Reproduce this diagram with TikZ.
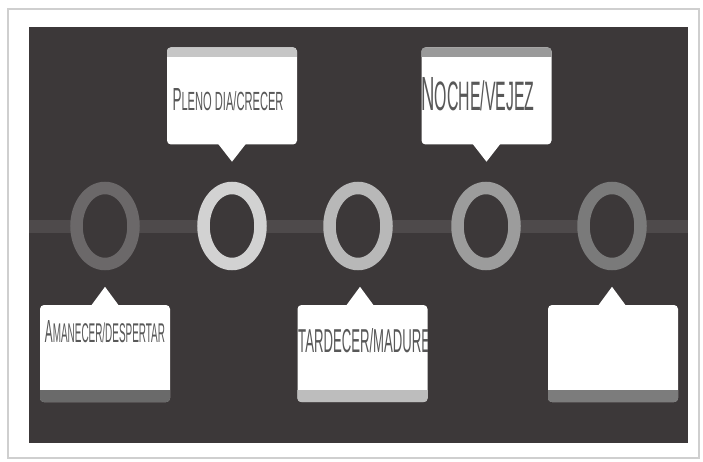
\documentclass[tikz,border=0pt]{standalone}
\usepackage{fontspec}
\usepackage{graphicx}
\setsansfont{Liberation Sans}
\usetikzlibrary{shapes.geometric,calc}
\definecolor{bg}{HTML}{3C3839}
\definecolor{linec}{HTML}{4E4A4B}
\definecolor{framec}{HTML}{CFCFCF}
\definecolor{ringA}{HTML}{6B6869}
\definecolor{ringB}{HTML}{D2D2D2}
\definecolor{ringC}{HTML}{B8B8B8}
\definecolor{ringD}{HTML}{9C9C9C}
\definecolor{ringE}{HTML}{7A7A7A}
\definecolor{stripA}{HTML}{C6C6C6}
\definecolor{stripB}{HTML}{9A9A9A}
\definecolor{stripC}{HTML}{6A6A6A}
\definecolor{stripD}{HTML}{BDBDBD}
\definecolor{stripE}{HTML}{7C7C7C}
\definecolor{txt}{HTML}{585858}
\tikzset{
  ring/.style={ellipse, line width=12.5pt, fill=bg, minimum width=57pt, minimum height=76pt, inner sep=0pt},
  card/.style={rectangle, rounded corners=4pt, fill=white, minimum width=130pt, minimum height=97pt, inner sep=0pt},
  lbl/.style={anchor=base, inner sep=0pt, text=txt, font=\sffamily},
}
\begin{document}
\begin{tikzpicture}[x=1pt,y=-1pt]
\useasboundingbox (0,0) rectangle (703,462);
\fill[white] (0,0) rectangle (703,462);
\draw[framec, line width=1.2pt] (8,9) rectangle (699,458);
\fill[bg] (29,27) rectangle (688,443);
% timeline
\coordinate (lineL) at (29,226.5);
\coordinate (lineR) at (688,226.5);
\draw[line width=12pt, linec] (lineL) -- (lineR);
% rings
\node[ring, draw=ringA] (c1) at (105,226) {};
\node[ring, draw=ringB] (c2) at (232,226) {};
\node[ring, draw=ringC] (c3) at (358,226) {};
\node[ring, draw=ringD] (c4) at (486,226) {};
\node[ring, draw=ringE] (c5) at (612,226) {};
% top cards
\node[card] (b1) at (232,96) {};
\node[card] (b2) at (486.5,96) {};
\begin{scope}
\path[clip, rounded corners=4pt] (b1.south west) rectangle (b1.north east);
\fill[stripA] (b1.north west) rectangle ($(b1.north east)+(0,10)$);
\end{scope}
\begin{scope}
\path[clip, rounded corners=4pt] (b2.south west) rectangle (b2.north east);
\fill[stripB] (b2.north west) rectangle ($(b2.north east)+(0,10)$);
\end{scope}
\fill[white] ($(b1.south)+(-14,-1)$) -- ($(b1.south)+(14,-1)$) -- ($(b1.south)+(0,17)$) -- cycle;
\fill[white] ($(b2.south)+(-14,-1)$) -- ($(b2.south)+(14,-1)$) -- ($(b2.south)+(0,17)$) -- cycle;
% bottom cards
\node[card] (b3) at (105,353.5) {};
\node[card] (b4) at (362.5,353.5) {};
\node[card] (b5) at (613,353.5) {};
\begin{scope}
\path[clip, rounded corners=4pt] (b3.south west) rectangle (b3.north east);
\fill[stripC] (b3.south west) rectangle ($(b3.south east)+(0,-12)$);
\end{scope}
\begin{scope}
\path[clip, rounded corners=4pt] (b4.south west) rectangle (b4.north east);
\fill[stripD] (b4.south west) rectangle ($(b4.south east)+(0,-12)$);
\end{scope}
\begin{scope}
\path[clip, rounded corners=4pt] (b5.south west) rectangle (b5.north east);
\fill[stripE] (b5.south west) rectangle ($(b5.south east)+(0,-12)$);
\end{scope}
\fill[white] ($(b3.north)+(-14,1)$) -- ($(b3.north)+(14,1)$) -- ($(b3.north)+(0,-18)$) -- cycle;
\fill[white] ($(b4.north)+(-16.5,1)$) -- ($(b4.north)+(11.5,1)$) -- ($(b4.north)+(-2.5,-18)$) -- cycle;
\fill[white] ($(b5.north)+(-15,1)$) -- ($(b5.north)+(13,1)$) -- ($(b5.north)+(-1,-18)$) -- cycle;
% labels
\node[lbl] (t1) at (228,111) {\resizebox{111pt}{22pt}{\fontsize{14}{14}\selectfont P\fontsize{11.5}{11.5}\selectfont LENO DIA/CRECER}};
\node[lbl] (t2) at (478,111) {\resizebox{113pt}{33pt}{\fontsize{14}{14}\selectfont N\fontsize{12}{12}\selectfont OCHE/VEJEZ}};
\node[lbl] (t3) at (105,342) {\resizebox{120pt}{22pt}{\fontsize{13}{13}\selectfont A\fontsize{11}{11}\selectfont MANECER/D\fontsize{11}{11}\selectfont ESPERTAR}};
\begin{scope}
\path[clip] (b4.south west) rectangle (b4.north east);
\node[lbl, anchor=base west] (t4) at (298,352) {\resizebox{140pt}{24pt}{\fontsize{12}{12}\selectfont TARDECER/MADUREZ}};
\end{scope}
\end{tikzpicture}
\end{document}
